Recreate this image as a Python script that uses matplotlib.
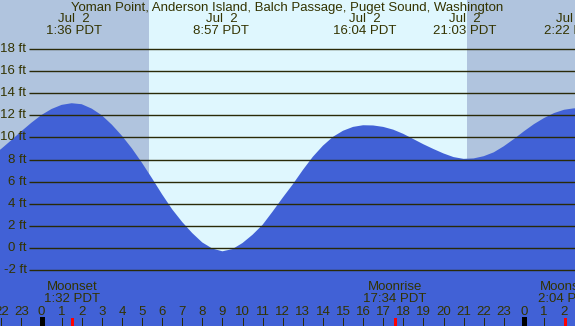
import matplotlib
matplotlib.use('Agg')
import matplotlib.pyplot as plt

# ---------------- data ----------------
title = "Yoman Point, Anderson Island, Balch Passage, Puget Sound, Washington"

tide_hours = [-2.5, -2.0, -1.5, -1.0, -0.5, 0.0, 0.5, 1.0, 1.5, 2.0,
              2.5, 3.0, 3.5, 4.0, 4.5, 5.0, 5.5, 6.0, 6.5, 7.0,
              7.5, 8.0, 8.5, 9.0, 9.5, 10.0, 10.5, 11.0, 11.5, 12.0,
              12.5, 13.0, 13.5, 14.0, 14.5, 15.0, 15.5, 16.0, 16.5, 17.0,
              17.5, 18.0, 18.5, 19.0, 19.5, 20.0, 20.5, 21.0, 21.5, 22.0,
              22.5, 23.0, 23.5, 24.0, 24.5, 25.0, 25.5, 26.0, 26.5, 27.0]
tide_feet = [8.27, 8.97, 9.75, 10.56, 11.33, 12.03, 12.57, 12.94, 13.09, 13.0,
             12.6, 12.0, 11.15, 10.15, 9.0, 7.7, 6.3, 4.85, 3.5, 2.35,
             1.35, 0.5, -0.05, -0.3, -0.1, 0.45, 1.2, 2.1, 3.3, 4.55,
             5.75, 7.05, 8.25, 9.25, 10.05, 10.6, 10.95, 11.1, 11.08, 10.95,
             10.7, 10.32, 9.85, 9.38, 8.95, 8.55, 8.22, 8.06, 8.1, 8.3,
             8.65, 9.2, 9.85, 10.55, 11.2, 11.75, 12.2, 12.5, 12.63, 12.6]

extreme_hours = [1 + 36/60, 8 + 57/60, 16 + 4/60, 21 + 3/60, 24 + 2 + 22/60]
extreme_dates = ["Jul  2", "Jul  2", "Jul  2", "Jul  2", "Jul  2"]
extreme_times = ["1:36 PDT", "8:57 PDT", "16:04 PDT", "21:03 PDT", "2:22 PDT"]

sunrise_hour = 5 + 20/60
sunset_hour = 21 + 9/60

moon_hours = [1 + 32/60, 17 + 34/60, 24 + 2 + 4/60]
moon_names = ["Moonset", "Moonrise", "Moonset"]
moon_times = ["1:32 PDT", "17:34 PDT", "2:04 PDT"]

tick_hours = list(range(-2, 27))
tick_labels = [str(h % 24) for h in tick_hours]
midnight_hours = [0, 24]

gridline_feet = [-2, 0, 2, 4, 6, 8, 10, 12, 14, 16, 18]
gridline_labels = [f"{v} ft" for v in gridline_feet]

# ---------------- layout ----------------
W, H = 575, 326
X0, PXH = 41.5, 20.1      # pixel of hour 0, pixels per hour
Y0, PXF = 248.0, 11.06    # pixel of 0 ft, pixels per foot

def hx(px):
    return (px - X0) / PXH

def fy(py):
    return (Y0 - py) / PXF

NIGHT = '#b0c4de'
DAY = '#dff7fe'
WATER = '#4161d6'
INK = '#333300'
LINE = '#2a2a08'
FONT = 'Liberation Sans'
FS = 9.5

fig = plt.figure(figsize=(W / 100, H / 100), dpi=100)
ax = fig.add_axes([0, 0, 1, 1])
ax.set_xlim(hx(0), hx(W))
ax.set_ylim(fy(H), fy(0))
ax.axis('off')

# day / night
ax.axvspan(hx(0), sunrise_hour, color=NIGHT, lw=0, zorder=0)
ax.axvspan(sunrise_hour, sunset_hour, color=DAY, lw=0, zorder=0)
ax.axvspan(sunset_hour, hx(W), color=NIGHT, lw=0, zorder=0)

# tide
ax.fill_between(tide_hours, fy(H + 5), tide_feet, color=WATER, lw=0, zorder=1)

# horizontal grid lines and labels
for v, lab in zip(gridline_feet, gridline_labels):
    ax.plot([hx(29), hx(W)], [v, v], color=LINE, lw=1.0, zorder=2,
            solid_capstyle='butt')
    ax.text(hx(26.5), v, lab, ha='right', va='center', color=INK,
            fontsize=FS, family=FONT, zorder=3)

# title
fig.text(0.5, 1 - 7.5 / H, title, ha='center', va='center', color=INK,
         fontsize=FS, family=FONT)

# extreme labels
for t, d, s in zip(extreme_hours, extreme_dates, extreme_times):
    ax.text(t, fy(19.5), d, ha='center', va='center', color=INK,
            fontsize=FS, family=FONT, zorder=3)
    ax.text(t, fy(31.5), s, ha='center', va='center', color=INK,
            fontsize=FS, family=FONT, zorder=3)

# moon labels
for t, n, s in zip(moon_hours, moon_names, moon_times):
    ax.text(t, fy(287.5), n, ha='center', va='center', color=INK,
            fontsize=FS, family=FONT, zorder=3)
    ax.text(t, fy(299.5), s, ha='center', va='center', color=INK,
            fontsize=FS, family=FONT, zorder=3)

# hour ticks and labels
ax.vlines(tick_hours, fy(H), fy(318), color=LINE, lw=0.72, zorder=3,
          antialiased=False)
ax.vlines(midnight_hours, fy(H), fy(317), color='#000000', lw=2.2, zorder=3,
          antialiased=False)
ax.vlines(moon_hours, fy(H), fy(318), color='#ff0000', lw=0.9, zorder=4,
          antialiased=False)
for t, lab in zip(tick_hours, tick_labels):
    ax.text(t, fy(312), lab, ha='center', va='center', color=INK,
            fontsize=FS, family=FONT, zorder=3)

fig.savefig('out.png', dpi=100)
